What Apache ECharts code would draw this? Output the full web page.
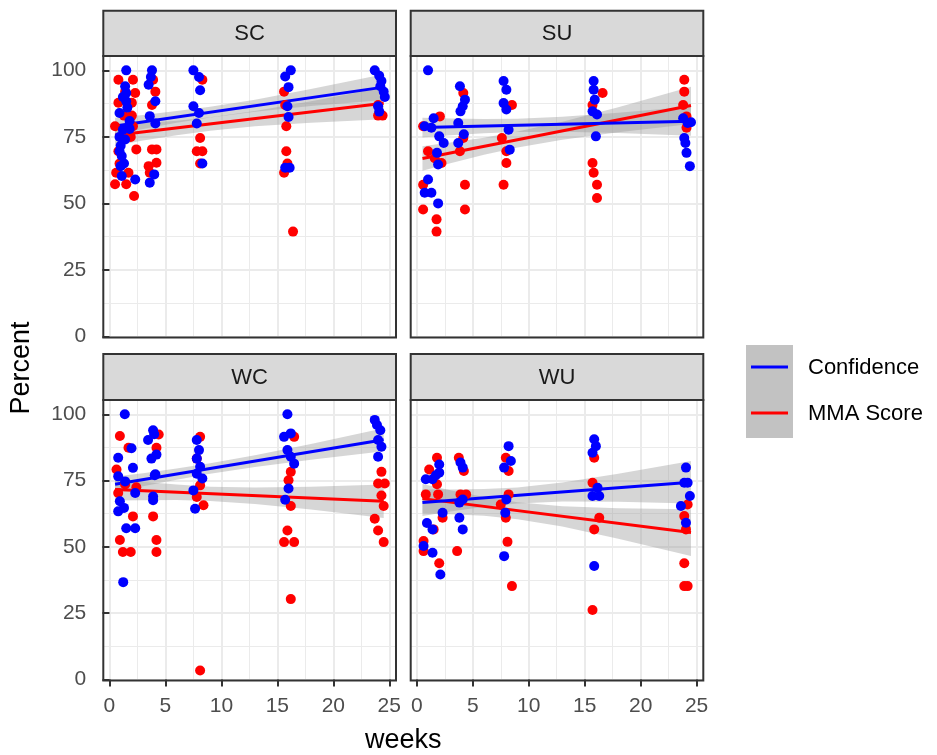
<!DOCTYPE html>
<html>
<head>
<meta charset="utf-8">
<script src="https://cdn.jsdelivr.net/npm/echarts@6/dist/echarts.min.js"></script>
<style>
html, body { margin: 0; padding: 0; background: #ffffff; }
#chart { width: 937px; height: 755px; }
</style>
</head>
<body>
<div id="chart"></div>
<script>
// Facet names and series names
const facets = ['SC', 'SU', 'WC', 'WU'];
const seriesNames = ['Confidence', 'MMA Score'];

// Axis breaks
const xMajor = [0, 5, 10, 15, 20, 25];
const xMinor = [2.5, 7.5, 12.5, 17.5, 22.5];
const yMajor = [0, 25, 50, 75, 100];
const yMinor = [12.5, 37.5, 62.5, 87.5];

// Observations: [weeks, percent]
const scConf = [[1.5,100],[3.8,100],[7.5,100],[16.2,100],[23.7,100],
  [3.7,97.5],[8.0,97.5],[15.7,97.7],[24.1,98],
  [1.4,94],[3.5,94.6],[8.1,92.5],[16.0,93.7],[24.3,96],[24.2,94],
  [1.5,91.5],[24.5,92],[1.5,88.4],[4.1,88.4],[24.6,90],[1.2,90],[1.6,86],
  [0.9,84],[8.0,84],[24.1,84.5],[3.6,82.8],[15.9,86.5],[7.5,86.5],[24.0,86.5],
  [1.8,81],[4.1,80],[7.8,80],[16.0,82.5],[1.2,77.7],[1.8,78],[0.9,75],
  [1.4,74],[1.0,71.7],[1.1,67.8],[1.0,64],[1.1,60.3],[0.9,69.6],[1.3,65],
  [4.0,60.9],[3.6,57.8],[2.3,59],[8.3,65],[15.7,63.4],[16.1,63.4]];
const scMma = [[0.8,96.5],[2.1,96.5],[3.9,96.5],[8.3,96.5],
  [1.4,92],[2.3,91.5],[4.1,92],[15.6,92],
  [0.8,87.8],[2.0,87.8],[3.8,87],[15.7,87],[24.0,87],
  [2.0,83],[1.3,83],[24.0,83],[24.4,83],[0.5,79],[2.1,79],[15.8,79],
  [1.0,75],[1.9,75],[8.1,74.6],
  [0.8,69.6],[2.4,70.3],[3.8,70.3],[4.2,70.3],[7.8,69.6],[8.3,69.6],[15.8,69.6],
  [4.2,65.3],[8.1,65],[15.9,65],[3.5,64],[0.9,65],
  [0.6,61.5],[1.7,61.5],[3.6,61.5],[15.6,61.5],
  [0.5,57.2],[1.5,57.2],[2.2,52.8],[16.4,39.4]];

const suConf = [[1.0,100],[3.85,94],[4.3,89],[4.1,86.5],[3.9,84.6],
  [7.75,96],[8.0,92.7],[7.75,87.7],[8.0,85.3],[8.2,77.7],[8.3,70.2],
  [15.8,96],[15.8,92.7],[15.9,89],[15.7,84.6],[16.1,83.4],[16.0,75.2],
  [23.8,82],[24.2,80.2],[24.5,80.5],[23.9,74.6],[24.0,72.7],[24.1,69],[24.4,64],
  [1.5,82],[0.7,79],[1.3,78.4],[2.0,75.2],[2.4,72.7],[1.8,69],[1.9,64.6],
  [1.0,59],[0.7,54],[1.3,54],[1.9,50],[3.7,80.2],[3.7,72.7],[4.2,76]];
const suMma = [[2.06,82.7],[0.56,79],[1.0,69.6],[1.6,67],[2.2,65.2],[0.56,57],
  [4.15,91.5],[4.15,74.6],[3.85,69.6],[4.3,57],[4.3,47.7],
  [0.56,47.7],[1.76,44],[1.76,39.4],
  [8.5,87],[7.6,74.6],[8.0,69.6],[8.0,65.2],[7.75,57],
  [16.6,91.5],[15.7,87],[15.7,65.2],[15.8,61.5],[16.1,57],[16.1,52],
  [23.9,96.5],[23.9,92],[23.8,87],[24.1,82.7],[24.1,78.4]];

const wcConf = [[1.37,100],[15.9,100],[23.7,97.9],[23.9,96],[24.2,94],
  [3.9,94],[4.0,92.5],[3.45,90.3],[3.75,83.3],[4.2,84.8],[4.1,77.4],[4.05,77],[3.9,69],[3.9,67.6],
  [7.8,90.3],[8.0,86.5],[7.8,83.3],[8.1,80.2],[7.8,77.6],[8.3,75.8],[7.5,71.3],[7.65,64.4],
  [15.6,91.5],[16.2,92.8],[15.9,86.5],[16.2,84],[16.5,81.4],[16.0,72],[15.7,67.8],
  [24.0,90.3],[24.3,87.8],[24.0,84],
  [0.78,83.6],[1.97,87.2],[2.1,79.8],[0.78,76.6],[1.4,74.7],[2.3,70.3],[0.93,67.2],
  [1.3,64.7],[0.78,63.4],[1.5,57],[2.3,57],[1.23,36.7]];
const wcMma = [[0.93,91.8],[1.7,87.4],[4.4,92.4],[4.2,87.4],[0.63,79.2],[1.4,73.5],[0.78,70.3],[2.4,72.5],
  [2.1,61.5],[3.9,61.5],[0.93,52.6],[4.2,52.6],[1.2,48.1],[1.9,48.1],[4.2,48.1],
  [8.1,91.5],[7.8,83.3],[8.1,73.2],[8.4,65.7],[7.8,68.8],[8.1,3.4],
  [16.5,91.5],[16.2,78.3],[16.0,75.1],[16.2,65.4],[15.9,56.2],[15.6,51.8],[16.5,51.8],[16.2,30.3],
  [24.3,78.3],[24.0,73.9],[24.6,73.9],[24.3,69.4],[24.5,65.4],[23.7,60.6],[24.0,56.2],[24.5,51.8]];

const wuConf = [[15.85,90.6],[16.0,88],[15.7,85.5],
  [8.2,88],[8.4,82.4],[7.8,79.9],[8.0,67.9],[7.9,62.9],[7.8,46.5],
  [2.0,81.1],[2.0,78],[1.4,75.5],[0.8,75.5],[1.7,77],[2.3,62.9],[0.9,59],[1.4,56.6],
  [0.6,50.3],[1.4,47.8],[2.1,39.6],
  [3.9,81.8],[4.1,79.9],[3.8,66.7],[4.1,67.9],[3.8,61],[4.1,56.6],
  [16.15,72.3],[15.7,69.2],[16.3,69.2],[15.85,42.8],
  [24.05,79.9],[23.9,74.2],[24.2,74.2],[24.4,69.2],[23.6,65.4],[24.05,59.1]];
const wuMma = [[1.8,83.6],[1.1,79.2],[1.8,73.6],[0.8,69.8],[1.9,69.8],[2.3,61],[1.5,56.6],
  [0.6,52.2],[0.6,48.4],[2.0,43.8],
  [3.75,83.6],[4.2,78.6],[3.9,69.8],[4.4,69.8],[3.6,48.4],
  [7.95,83.6],[8.2,78.6],[8.2,69.8],[7.5,66],[7.95,61],[8.1,51.9],[8.5,35.2],
  [15.85,83.6],[15.7,74.2],[16.3,61],[15.85,56.6],[15.7,26.2],
  [24.2,66],[23.9,61.6],[24.05,56.6],[23.9,43.8],[23.9,35.2],[24.2,35.2]];

// Linear fits: endpoints at fitWeeks, confidence band at bandWeeks
const fitWeeks = [0.5, 24.5];
const bandWeeks = [0.5, 3, 6, 9, 13, 18, 24.5];

const scConfFit = [79.1, 93.7];
const scConfLow = [76.0, 78.0, 80.3, 82.3, 84.4, 86.6, 88.9];
const scConfHigh = [82.2, 83.2, 84.7, 86.3, 89.0, 93.0, 98.5];
const scMmaFit = [75.6, 87.6];
const scMmaLow = [71.7, 73.6, 75.6, 77.35, 79.0, 80.3, 81.6];
const scMmaHigh = [79.5, 80.1, 81.1, 82.35, 84.7, 88.4, 93.6];

const suConfFit = [78.5, 80.9];
const suConfLow = [74.8, 75.6, 76.4, 76.85, 76.95, 76.45, 75.4];
const suConfHigh = [82.2, 81.9, 81.7, 81.85, 82.55, 84.05, 86.4];
const suMmaFit = [66.9, 86.8];
const suMmaLow = [62.3, 65.1, 68.3, 71.0, 73.9, 76.7, 79.8];
const suMmaHigh = [71.5, 72.9, 74.7, 77.0, 80.7, 86.1, 93.8];

const wcConfFit = [73.6, 90.4];
const wcConfLow = [70.7, 72.9, 75.3, 77.55, 80.1, 82.9, 86.1];
const wcConfHigh = [76.5, 77.8, 79.6, 81.55, 84.6, 88.8, 94.7];
const wcMmaFit = [71.6, 67.2];
const wcMmaLow = [67.5, 67.6, 67.7, 67.3, 66.2, 64.1, 60.9];
const wcMmaHigh = [75.7, 74.6, 73.5, 72.7, 72.4, 72.7, 73.5];

const wuConfFit = [66.7, 74.4];
const wuConfLow = [61.65, 63.35, 65.1, 66.4, 67.1, 67.05, 66.4];
const wuConfHigh = [71.75, 71.65, 71.8, 72.4, 74.25, 77.55, 82.4];
const wuMmaFit = [68.2, 55.4];
const wuMmaLow = [62.7, 62.35, 61.7, 60.45, 57.65, 53.05, 46.6];
const wuMmaHigh = [73.7, 71.35, 68.8, 66.85, 65.35, 64.55, 64.2];

// ---- layout & styling ----
const FONT = '"Liberation Sans", Arial, sans-serif';
const BLUE = '#0000ff', RED = '#ff0000';
const X_MIN = -0.55, X_MAX = 25.6;
const Y_MIN = -0.4, Y_MAX = 105.4;

const panels = [
  { name: facets[0], conf: scConf, mma: scMma,
    confFit: scConfFit, confLow: scConfLow, confHigh: scConfHigh,
    mmaFit: scMmaFit, mmaLow: scMmaLow, mmaHigh: scMmaHigh,
    left: 103.3, top: 56, width: 292.7, height: 281.5, stripTop: 10.7, yLabels: true, xLabels: false },
  { name: facets[1], conf: suConf, mma: suMma,
    confFit: suConfFit, confLow: suConfLow, confHigh: suConfHigh,
    mmaFit: suMmaFit, mmaLow: suMmaLow, mmaHigh: suMmaHigh,
    left: 410.7, top: 56, width: 292.6, height: 281.5, stripTop: 10.7, yLabels: false, xLabels: false },
  { name: facets[2], conf: wcConf, mma: wcMma,
    confFit: wcConfFit, confLow: wcConfLow, confHigh: wcConfHigh,
    mmaFit: wcMmaFit, mmaLow: wcMmaLow, mmaHigh: wcMmaHigh,
    left: 103.3, top: 400, width: 292.7, height: 280.5, stripTop: 354, yLabels: true, xLabels: true },
  { name: facets[3], conf: wuConf, mma: wuMma,
    confFit: wuConfFit, confLow: wuConfLow, confHigh: wuConfHigh,
    mmaFit: wuMmaFit, mmaLow: wuMmaLow, mmaHigh: wuMmaHigh,
    left: 410.7, top: 400, width: 292.6, height: 280.5, stripTop: 354, yLabels: false, xLabels: true }
];

const grid = [], xAxis = [], yAxis = [], series = [], graphic = [];

function bandSeries(idx, low, high) {
  const data = bandWeeks.map((w, i) => [w, low[i], high[i]]);
  return {
    type: 'custom', xAxisIndex: 2 * idx, yAxisIndex: 2 * idx, silent: true, z: 2,
    data: data,
    encode: { x: 0, y: [1, 2] },
    renderItem: function (params, api) {
      if (params.dataIndex !== 0) return null;
      const upper = data.map(d => api.coord([d[0], d[2]]));
      const lower = data.map(d => api.coord([d[0], d[1]])).reverse();
      return { type: 'polygon', shape: { points: upper.concat(lower) },
        style: { fill: 'rgba(153,153,153,0.4)' } };
    }
  };
}

function fitSeries(idx, fit, color) {
  return {
    type: 'line', xAxisIndex: 2 * idx, yAxisIndex: 2 * idx, silent: true, z: 3,
    data: fitWeeks.map((w, i) => [w, fit[i]]),
    symbol: 'none', lineStyle: { color: color, width: 3 }
  };
}

function pointSeries(idx, pts, color, name) {
  return {
    type: 'scatter', name: name, xAxisIndex: 2 * idx, yAxisIndex: 2 * idx, z: 4,
    data: pts, symbol: 'circle', symbolSize: 10,
    itemStyle: { color: color, opacity: 1 }
  };
}

panels.forEach((p, i) => {
  grid.push({ left: p.left, top: p.top, width: p.width, height: p.height,
    show: true, backgroundColor: '#ffffff', borderWidth: 0 });

  const labelStyle = { fontSize: 21, color: '#4d4d4d', fontFamily: FONT };
  xAxis.push({
    type: 'value', gridIndex: i, min: X_MIN, max: X_MAX, position: 'bottom',
    axisLine: { show: false },
    axisTick: { show: p.xLabels, length: 7, customValues: xMajor, lineStyle: { color: '#333333', width: 2 } },
    axisLabel: Object.assign({ show: p.xLabels, customValues: xMajor, margin: 15 }, labelStyle),
    splitLine: { show: true, lineStyle: { color: '#ebebeb', width: 2 } }
  });
  xAxis.push({
    type: 'value', gridIndex: i, min: X_MIN, max: X_MAX, position: 'top',
    axisLine: { show: false },
    axisTick: { show: false, customValues: xMinor },
    axisLabel: { show: false, customValues: xMinor },
    splitLine: { show: true, lineStyle: { color: '#ebebeb', width: 1 } }
  });
  yAxis.push({
    type: 'value', gridIndex: i, min: Y_MIN, max: Y_MAX, position: 'left',
    axisLine: { show: false },
    axisTick: { show: p.yLabels, length: 7, customValues: yMajor, lineStyle: { color: '#333333', width: 2 } },
    axisLabel: Object.assign({ show: p.yLabels, customValues: yMajor, margin: 17 }, labelStyle),
    splitLine: { show: true, lineStyle: { color: '#ebebeb', width: 2 } }
  });
  yAxis.push({
    type: 'value', gridIndex: i, min: Y_MIN, max: Y_MAX, position: 'right',
    axisLine: { show: false },
    axisTick: { show: false, customValues: yMinor },
    axisLabel: { show: false, customValues: yMinor },
    splitLine: { show: true, lineStyle: { color: '#ebebeb', width: 1 } }
  });

  series.push(bandSeries(i, p.mmaLow, p.mmaHigh));
  series.push(bandSeries(i, p.confLow, p.confHigh));
  series.push(fitSeries(i, p.mmaFit, RED));
  series.push(fitSeries(i, p.confFit, BLUE));
  series.push(pointSeries(i, p.mma, RED, seriesNames[1]));
  series.push(pointSeries(i, p.conf, BLUE, seriesNames[0]));

  // panel border
  graphic.push({ type: 'rect', z: 100, silent: true,
    shape: { x: p.left, y: p.top, width: p.width, height: p.height },
    style: { fill: 'none', stroke: '#333333', lineWidth: 2 } });
  // strip
  graphic.push({ type: 'rect', z: 100, silent: true,
    shape: { x: p.left, y: p.stripTop, width: p.width, height: p.top - p.stripTop },
    style: { fill: '#d9d9d9', stroke: '#333333', lineWidth: 2 } });
  graphic.push({ type: 'text', z: 101, silent: true,
    x: p.left + p.width / 2, y: (p.stripTop + p.top) / 2 + 1,
    style: { text: p.name, align: 'center', verticalAlign: 'middle',
      fontSize: 22, fontFamily: FONT, fill: '#1a1a1a' } });
});

// axis titles
graphic.push({ type: 'text', z: 101, silent: true, x: 22, y: 368, rotation: Math.PI / 2,
  style: { text: 'Percent', align: 'center', verticalAlign: 'middle',
    fontSize: 27, fontFamily: FONT, fill: '#000000' } });
graphic.push({ type: 'text', z: 101, silent: true, x: 403.3, y: 741,
  style: { text: 'weeks', align: 'center', verticalAlign: 'middle',
    fontSize: 27, fontFamily: FONT, fill: '#000000' } });

// legend
graphic.push({ type: 'rect', z: 100, silent: true,
  shape: { x: 746, y: 345, width: 47, height: 93 },
  style: { fill: '#c2c2c2' } });
[[seriesNames[0], BLUE, 367], [seriesNames[1], RED, 413]].forEach(item => {
  graphic.push({ type: 'line', z: 101, silent: true,
    shape: { x1: 751, y1: item[2], x2: 788, y2: item[2] },
    style: { stroke: item[1], lineWidth: 3 } });
  graphic.push({ type: 'text', z: 101, silent: true, x: 808, y: item[2] + 1,
    style: { text: item[0], align: 'left', verticalAlign: 'middle',
      fontSize: 22, fontFamily: FONT, fill: '#000000' } });
});

const chart = echarts.init(document.getElementById('chart'), null, { renderer: 'canvas' });
chart.setOption({
  animation: false,
  backgroundColor: '#ffffff',
  grid: grid,
  xAxis: xAxis,
  yAxis: yAxis,
  series: series,
  graphic: graphic
});
</script>
</body>
</html>
